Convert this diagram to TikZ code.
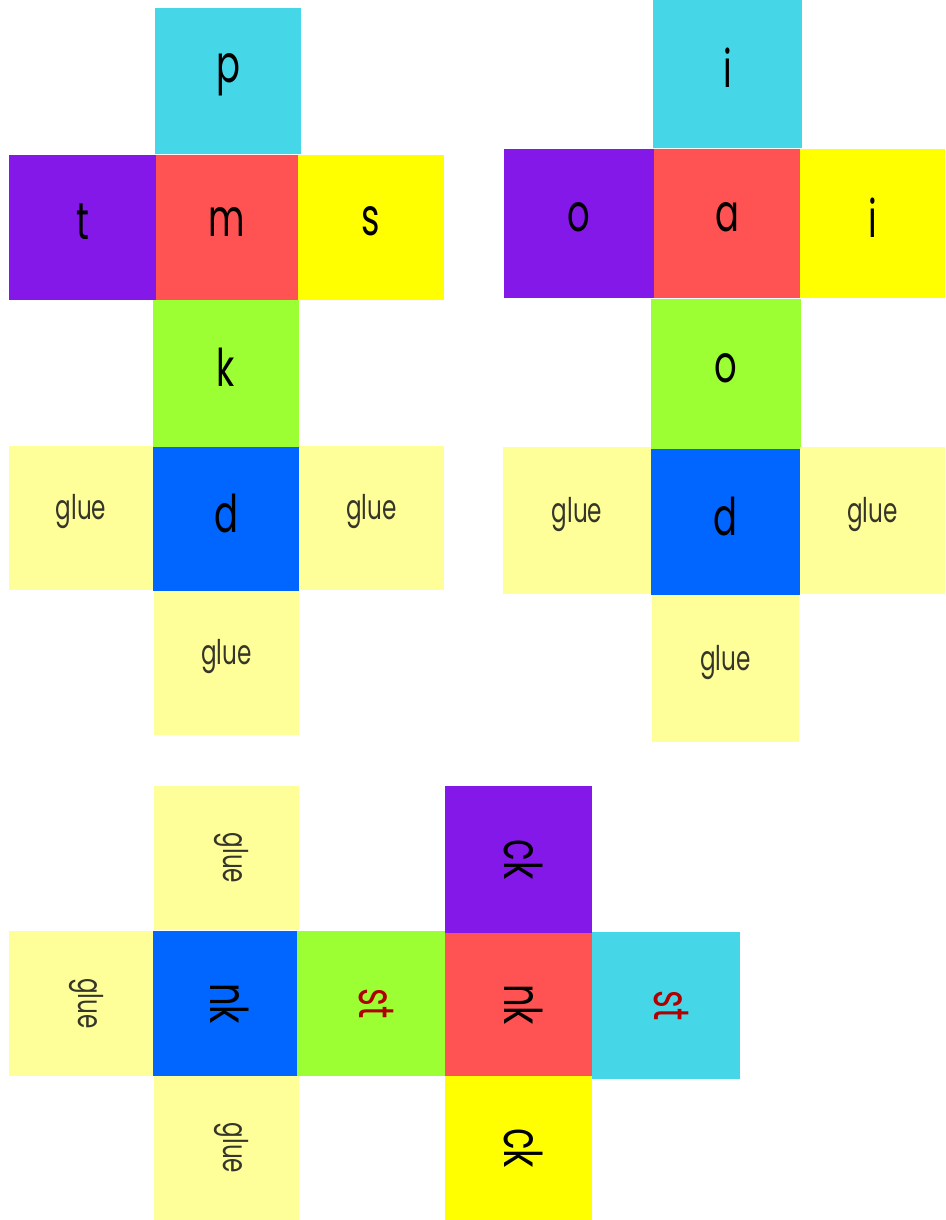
\documentclass[tikz,border=0pt]{standalone}
\usepackage{fontspec}
\usepackage{graphicx}
\setmainfont{Poppins}
\definecolor{ccyan}{HTML}{45D7E8}
\definecolor{cpurple}{HTML}{8318E8}
\definecolor{cred}{HTML}{FF5252}
\definecolor{cyellow}{HTML}{FFFF00}
\definecolor{cgreen}{HTML}{9CFF33}
\definecolor{cblue}{HTML}{0066FF}
\definecolor{cpale}{HTML}{FFFF99}
\definecolor{gluetext}{HTML}{35352A}
\definecolor{sttext}{HTML}{B00000}
\tikzset{
  cell/.style={inner sep=0pt, outer sep=0pt, draw=none, anchor=center},
  big/.style={font=\fontsize{52}{52}\selectfont, text=black},
  gluelbl/.style={font=\fontsize{34}{34}\selectfont, text=gluetext},
  stlbl/.style={font=\fontsize{50}{50}\selectfont, text=sttext},
  up/.style={yshift=6pt},
  rot/.style={xshift=5pt, rotate=-90},
}
\newcommand{\cell}[8][]{%
  \node[cell,fill=#7,minimum width={#5-#3},minimum height={#6-#4}] (#2) at ({(#3+#5)/2},{(#4+#6)/2}) {};
  \node[#1] (#2-t) at (#2.center) {\scalebox{0.68}[1]{#8}};}
\begin{document}
\begin{tikzpicture}[x=1pt,y=-1pt]
\useasboundingbox (0,0) rectangle (945,1220);
\fill[white] (0,0) rectangle (945,1220);
% figure 1
\cell[big,up]{p}{155}{8}{301}{154}{ccyan}{p}
\cell[big,up]{t}{9}{155}{156}{300}{cpurple}{t}
\cell[big,up]{m}{156}{155}{298}{300}{cred}{m}
\cell[big,up]{s}{298}{155}{444}{300}{cyellow}{s}
\cell[big,up]{k}{153}{300}{299}{447}{cgreen}{k}
\cell[gluelbl,up]{gl1}{9}{446}{153}{590}{cpale}{glue}
\cell[big,up]{d1}{153}{447}{299}{591}{cblue}{d}
\cell[gluelbl,up]{gr1}{299}{446}{444}{590}{cpale}{glue}
\cell[gluelbl,up]{gb1}{154}{591}{299}{735}{cpale}{glue}
% figure 2
\cell[big,up]{i1}{653}{0}{802}{148}{ccyan}{i}
\cell[big,up]{o1}{504}{149}{654}{298}{cpurple}{o}
\cell[big,up]{a}{654}{149}{800}{298}{cred}{a}
\cell[big,up]{i2}{800}{149}{945}{298}{cyellow}{i}
\cell[big,up]{o2}{651}{299}{801}{449}{cgreen}{o}
\cell[gluelbl,up]{gl2}{503}{447}{651}{594}{cpale}{glue}
\cell[big,up]{d2}{651}{449}{800}{595}{cblue}{d}
\cell[gluelbl,up]{gr2}{800}{447}{945}{594}{cpale}{glue}
\cell[gluelbl,up]{gb2}{652}{595}{799}{742}{cpale}{glue}
% figure 3
\cell[gluelbl,rot]{gt3}{154}{786}{299}{930}{cpale}{glue}
\cell[gluelbl,rot]{gl3}{9}{931}{153}{1076}{cpale}{glue}
\cell[big,rot]{nk1}{153}{931}{297}{1076}{cblue}{nk}
\cell[stlbl,rot]{st1}{297}{931}{445}{1076}{cgreen}{st}
\cell[big,rot]{ck1}{445}{786}{592}{933}{cpurple}{ck}
\cell[big,rot]{nk2}{445}{933}{592}{1076}{cred}{nk}
\cell[stlbl,rot]{st2}{592}{932}{740}{1079}{ccyan}{st}
\cell[big,rot]{ck2}{445}{1076}{592}{1220}{cyellow}{ck}
\cell[gluelbl,rot]{gb3}{154}{1076}{299}{1220}{cpale}{glue}
\end{tikzpicture}
\end{document}
